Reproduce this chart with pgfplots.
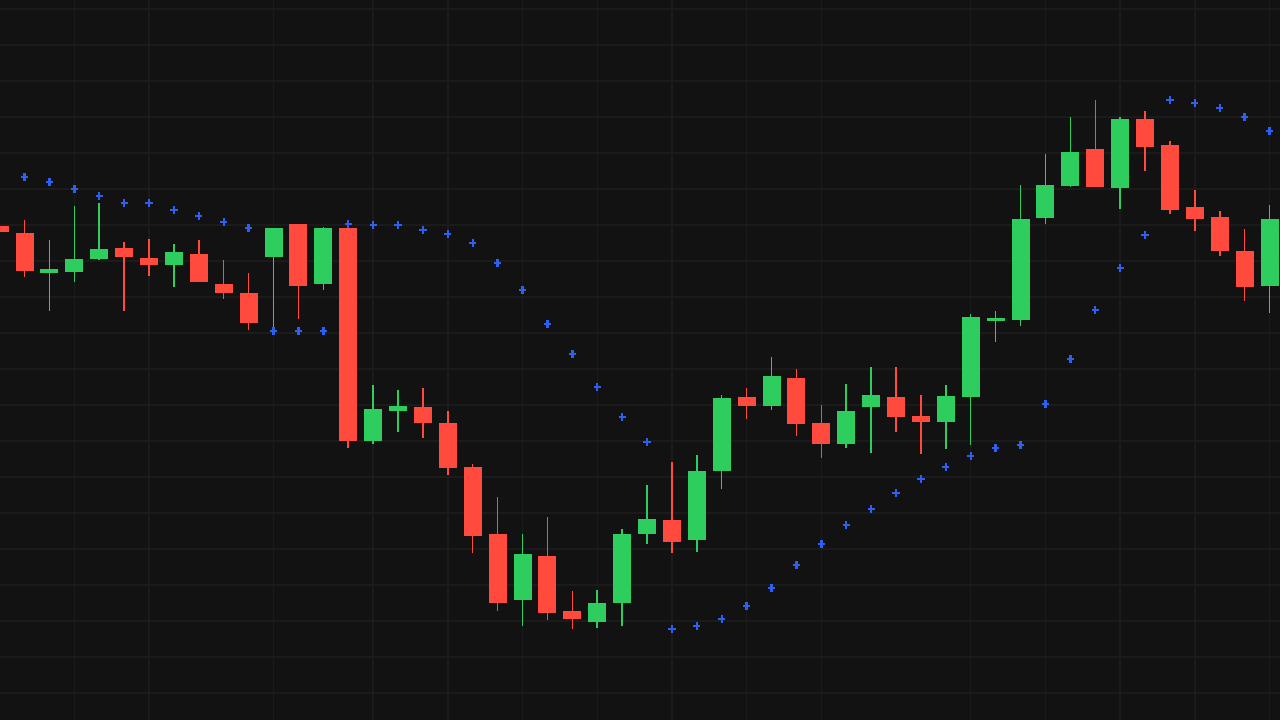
\documentclass[border=0pt]{standalone}
\usepackage{pgfplots}
\usepackage{pgfplotstable}
\pgfplotsset{compat=1.18}
\definecolor{bgc}{RGB}{18,18,18}
\definecolor{gridc}{RGB}{27,27,27}
\definecolor{cgreen}{RGB}{46,206,94}
\definecolor{cred}{RGB}{255,74,61}
\definecolor{cblue}{RGB}{45,95,240}

% columns: i open high low close (price units)
\pgfplotstableread{
i open high low close
2 447 480 409 451
3 448 514 438 461
4 461 517 460 471
7 455 476 433 468
11 463 492 388 492
13 436 493 430 492
15 279 335 276 311
16 309 330 288 314
21 120 186 94 166
24 98 130 92 117
25 117 191 94 186
26 186 235 176 201
28 180 265 168 249
29 249 325 231 322
31 314 363 310 344
34 276 336 272 309
35 313 353 267 325
38 298 335 271 324
39 323 406 275 403
40 399 409 378 402
41 400 535 394 501
42 502 566 496 535
43 534 603 533 568
45 532 603 511 601
51 434 515 407 501
}\greentab

\pgfplotstableread{
i open high low close
0 494 494 488 488
1 487 500 443 449
5 472 478 409 463
6 462 481 444 455
8 466 480 438 438
9 436 460 421 427
10 427 447 390 397
12 496 496 401 434
14 492 495 272 279
17 313 332 282 297
18 297 309 245 252
19 253 256 167 184
20 186 223 109 117
22 164 203 100 107
23 109 129 91 101
27 200 258 167 178
30 323 332 301 314
32 342 351 284 296
33 297 315 262 276
36 323 353 288 303
37 304 325 266 298
44 571 620 533 533
46 601 609 549 573
47 575 579 506 510
48 513 530 489 501
49 503 509 464 469
50 469 491 419 433
}\redtab

\pgfplotstableread{
i sar
0 544
1 543
2 538
3 531
4 524
5 517
6 517
7 510
8 504
9 498
10 492
11 389
12 389
13 389
14 496
15 495
16 495
17 490
18 486
19 477
20 457
21 430
22 396
23 366
24 333
25 303
26 278
27 91
28 94
29 101
30 114
31 132
32 155
33 176
34 195
35 211
36 227
37 241
38 253
39 264
40 272
41 275
42 316
43 361
44 410
45 452
46 485
47 620
48 617
49 612
50 603
51 589
}\sartab

\begin{document}
\begin{tikzpicture}
\begin{axis}[
  width=640pt, height=360pt, scale only axis,
  xmin=0.016, xmax=51.42, ymin=0, ymax=720,
  axis background/.style={fill=bgc},
  axis line style={draw=none},
  major tick length=0pt,
  xtick={3,6,11,15,18,21,24,27,30,33,39,42,45,48,51},
  ytick={27,63,...,711},
  xticklabels={}, yticklabels={},
  grid=major,
  grid style={draw=gridc, line width=0.7pt},
]
% wicks
\addplot[draw=none, mark=none, forget plot,
  error bars/.cd, y dir=plus, y explicit, error mark=none,
  error bar style={draw=cgreen, line width=0.75pt}]
  table[x=i, y=low, y error expr=\thisrow{high}-\thisrow{low}] {\greentab};
\addplot[draw=none, mark=none, forget plot,
  error bars/.cd, y dir=plus, y explicit, error mark=none,
  error bar style={draw=cred, line width=0.75pt}]
  table[x=i, y=low, y error expr=\thisrow{high}-\thisrow{low}] {\redtab};
% bodies
\addplot[draw=none, mark=none, forget plot,
  error bars/.cd, y dir=plus, y explicit, error mark=none,
  error bar style={draw=cgreen, line width=9pt}]
  table[x=i, y=open, y error expr=\thisrow{close}-\thisrow{open}] {\greentab};
\addplot[draw=none, mark=none, forget plot,
  error bars/.cd, y dir=plus, y explicit, error mark=none,
  error bar style={draw=cred, line width=9pt}]
  table[x=i, y=close, y error expr=\thisrow{open}-\thisrow{close}] {\redtab};
% parabolic SAR
\addplot[only marks, mark=+, mark size=1.8pt, mark options={draw=cblue, line width=1.2pt}]
  table[x=i, y=sar] {\sartab};
\end{axis}
\pgfresetboundingbox
\path[use as bounding box] (current axis.south west) rectangle (current axis.north east);
\end{tikzpicture}
\end{document}
